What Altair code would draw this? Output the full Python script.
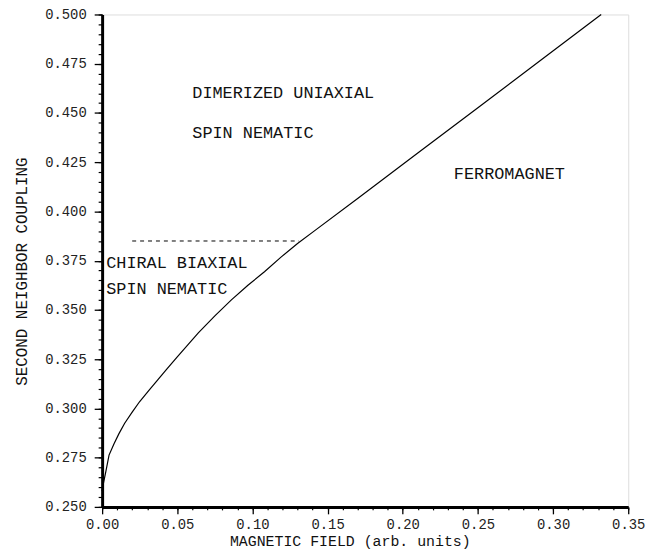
import altair as alt
import pandas as pd

# boundary curve (magnetic field, second neighbor coupling)
curve_x = [0.000, 0.001, 0.0025, 0.0046, 0.008, 0.0112, 0.015, 0.020, 0.025, 0.031,
           0.037, 0.043, 0.050, 0.057, 0.064, 0.075, 0.086, 0.097, 0.108, 0.119,
           0.130, 0.141, 0.170, 0.210, 0.250, 0.290, 0.332]
curve_y = [0.258, 0.2625, 0.268, 0.2763, 0.2822, 0.2872, 0.2925, 0.2981, 0.3035, 0.3090,
           0.3145, 0.3200, 0.3262, 0.3323, 0.3384, 0.3470, 0.3551, 0.3625, 0.3694, 0.3768,
           0.3837, 0.3900, 0.4066, 0.4297, 0.4526, 0.4757, 0.5000]

# dashed boundary
dash_x = [0.020, 0.131]
dash_y = [0.385, 0.385]

# region labels
label_text = ["DIMERIZED UNIAXIAL", "SPIN NEMATIC", "FERROMAGNET", "CHIRAL BIAXIAL", "SPIN NEMATIC"]
label_x = [0.0600, 0.0600, 0.2340, 0.0027, 0.0027]
label_y = [0.4599, 0.4400, 0.4189, 0.3737, 0.3607]

x_major = [0.00, 0.05, 0.10, 0.15, 0.20, 0.25, 0.30, 0.35]
y_major = [0.250, 0.275, 0.300, 0.325, 0.350, 0.375, 0.400, 0.425, 0.450, 0.475, 0.500]
x_minor = [round(i * 0.01, 2) for i in range(36)]
y_minor = [round(0.25 + i * 0.005, 3) for i in range(51)]

curve_df = pd.DataFrame({"x": curve_x, "y": curve_y})
dash_df = pd.DataFrame({"x": dash_x, "y": dash_y})
label_df = pd.DataFrame({"t": label_text, "x": label_x, "y": label_y})

TFONT = "Liberation Mono"

xscale = alt.Scale(domain=[0, 0.35], nice=False, zero=False)
yscale = alt.Scale(domain=[0.25, 0.5], nice=False, zero=False)

xaxis = alt.Axis(
    values=x_major, format=".2f", title="MAGNETIC FIELD (arb. units)", grid=False, orient="bottom",
    tickSize=7, tickWidth=1.3, tickColor="black", domainColor="black", domainWidth=3,
    labelFont="Liberation Mono", labelFontSize=14, labelFontWeight=400, labelColor="#222",
    labelPadding=4, labelFlush=False, labelOverlap=False,
    titleFont=TFONT, titleFontSize=15, titleFontWeight=400, titleColor="#111",
    titleX=250, titleY=34, titleBaseline="middle",
)
yaxis = alt.Axis(
    values=y_major, format=".3f", title="SECOND NEIGHBOR COUPLING", grid=False, orient="left",
    tickSize=8, tickWidth=1.3, tickColor="black", domainColor="black", domainWidth=3,
    labelFont="Liberation Mono", labelFontSize=14, labelFontWeight=400, labelColor="#222",
    labelPadding=8, labelFlush=False, labelOverlap=False, labelBaseline="middle",
    titleFont=TFONT, titleFontSize=16, titleFontWeight=400, titleColor="#111",
    titleX=-81, titleY=259, titleBaseline="middle",
)
xaxis_minor = alt.Axis(values=x_minor, labels=False, title=None, grid=False, domain=False,
                       orient="bottom", tickSize=3, tickWidth=1.2, tickColor="black")
yaxis_minor = alt.Axis(values=y_minor, labels=False, title=None, grid=False, domain=False,
                       orient="left", tickSize=4, tickWidth=1.2, tickColor="black")

minor = alt.Chart(curve_df).mark_point(opacity=0).encode(
    x=alt.X("x:Q", scale=xscale, axis=xaxis_minor),
    y=alt.Y("y:Q", scale=yscale, axis=yaxis_minor),
)

line = alt.Chart(curve_df).mark_line(color="black", strokeWidth=1.2).encode(
    x=alt.X("x:Q", scale=xscale, axis=xaxis),
    y=alt.Y("y:Q", scale=yscale, axis=yaxis),
    order="x:Q",
)

dash = alt.Chart(dash_df).mark_line(color="black", strokeWidth=1, strokeDash=[4, 4]).encode(
    x=alt.X("x:Q", scale=xscale, axis=None), y=alt.Y("y:Q", scale=yscale, axis=None)
)

labels = alt.Chart(label_df).mark_text(
    align="left", baseline="middle", font=TFONT, fontSize=17, fontWeight=400, color="#111"
).encode(x=alt.X("x:Q", scale=xscale, axis=None), y=alt.Y("y:Q", scale=yscale, axis=None), text="t:N")

chart = alt.layer(minor, line, dash, labels).resolve_axis(
    x="independent", y="independent"
).properties(
    width=531, height=497,
    autosize=alt.AutoSizeParams(type="none"),
    padding={"left": 95, "top": 4, "right": 25, "bottom": 45},
).configure_view(stroke="black", strokeWidth=2).configure(background="white")

chart.save("out.html", embed_options={"renderer": "svg", "actions": False})
